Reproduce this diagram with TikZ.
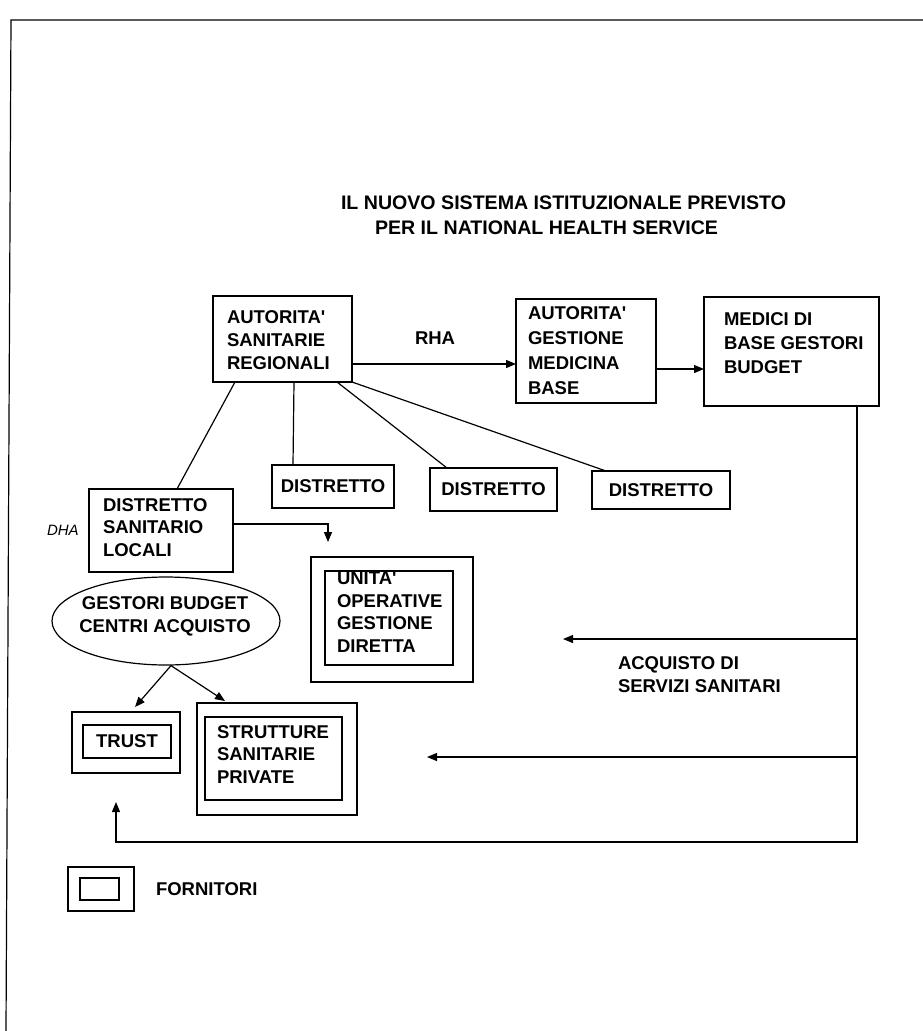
\documentclass[tikz,border=0pt]{standalone}
\usepackage{fontspec}
\newfontfamily\hv{Liberation Sans}
\usetikzlibrary{arrows.meta,shapes.geometric}
\begin{document}
\begin{tikzpicture}[x=1pt,y=-1pt,
  box/.style={draw,line width=1.2pt,inner sep=0pt,outer sep=0pt},
  bf/.style={font=\hv\bfseries\fontsize{18.5}{23}\selectfont},
  t/.style={font=\hv\bfseries\fontsize{18.5}{23}\selectfont,inner sep=0pt,outer sep=0pt,align=left,anchor=west},
  ln/.style={line width=1.2pt},
  arr/.style={ln,-{Triangle[length=10pt,width=8pt]}}]
\useasboundingbox (0,0) rectangle (923,1031);
% frame
\coordinate (ftl) at (11,20);
\coordinate (ftr) at (923,20);
\coordinate (fbl) at (6,1031);
\draw[ln] (ftr) -- (ftl) -- (fbl);
% title
\node[t,font=\hv\bfseries\fontsize{19.6}{25}\selectfont] (title1) at (341,203) {IL NUOVO SISTEMA ISTITUZIONALE PREVISTO};
\node[t,font=\hv\bfseries\fontsize{19.6}{25}\selectfont] (title2) at (375,228) {PER IL NATIONAL HEALTH SERVICE};
% top row
\node[box,minimum width=139,minimum height=86] (asr) at (282.5,339) {};
\node[t] (asrt) at (227,340) {AUTORITA'\\SANITARIE\\REGIONALI};
\node[t] (rha) at (415,338) {RHA};
\node[box,minimum width=140,minimum height=104] (agmb) at (586,351) {};
\node[t,font=\hv\bfseries\fontsize{18.5}{25}\selectfont] (agmbt) at (528,350.5) {AUTORITA'\\GESTIONE\\MEDICINA\\BASE};
\node[box,minimum width=175,minimum height=109] (med) at (791.5,351.5) {};
\node[t,font=\hv\bfseries\fontsize{18.5}{24}\selectfont] (medt) at (724,343) {MEDICI DI\\BASE GESTORI\\BUDGET};
% distretti
\node[box,bf,minimum width=122,minimum height=43] (d1) at (333,486.5) {DISTRETTO};
\node[box,bf,minimum width=127,minimum height=43] (d2) at (493.5,489.5) {DISTRETTO};
\node[box,bf,minimum width=138,minimum height=38] (d3) at (661,490) {DISTRETTO};
% distretto sanitario locali
\node[box,minimum width=144,minimum height=83] (dsl) at (161,530.5) {};
\node[t,font=\hv\bfseries\fontsize{18.5}{22.5}\selectfont] (dslt) at (103,527.5) {DISTRETTO\\SANITARIO\\LOCALI};
\node[t,font=\hv\itshape\fontsize{15}{18}\selectfont] (dha) at (47,530) {DHA};
% unita operative
\node[box,minimum width=162,minimum height=125] (uo) at (392,619.5) {};
\node[box,minimum width=128,minimum height=94] (ui) at (389,618) {};
\node[t,font=\hv\bfseries\fontsize{18.5}{22.7}\selectfont] (uot) at (337,612) {UNITA'\\OPERATIVE\\GESTIONE\\DIRETTA};
% ellipse
\node[draw,ellipse,ln,minimum width=228,minimum height=88,inner sep=0pt] (el) at (166,621) {};
\node[bf,align=center,inner sep=0pt] (elt) at (165,616.5) {GESTORI BUDGET\\CENTRI ACQUISTO};
% trust
\node[box,minimum width=108,minimum height=61] (tro) at (126,742.5) {};
\node[box,bf,minimum width=88,minimum height=33] (tri) at (127,741.5) {TRUST};
% strutture
\node[box,minimum width=160,minimum height=112] (sto) at (277,759) {};
\node[box,minimum width=137,minimum height=83] (sti) at (273.5,758.5) {};
\node[t,font=\hv\bfseries\fontsize{18.5}{22.5}\selectfont] (stt) at (217,754.5) {STRUTTURE\\SANITARIE\\PRIVATE};
% legend
\node[box,minimum width=66,minimum height=44] (lgo) at (101,889) {};
\node[box,minimum width=39,minimum height=22] (lgi) at (99.5,889) {};
\node[t] (lgt) at (156,889) {FORNITORI};
% acquisto
\node[t] (acq) at (618,674.5) {ACQUISTO DI\\SERVIZI SANITARI};
% connectors
\draw[arr] ([yshift=-25pt]asr.east) -- ([yshift=-25pt]asr.east -| agmb.west);
\draw[arr] ([yshift=-18pt]agmb.east) -- ([yshift=-18pt]agmb.east -| med.west);
\draw[ln] ([xshift=22pt]asr.south west) -- ([xshift=88pt]dsl.north west);
\draw[ln] ([xshift=11.5pt]asr.south) -- ([xshift=-40pt]d1.north);
\draw[ln] ([xshift=-15pt]asr.south east) -- ([xshift=17pt]d2.north west);
\draw[ln] (asr.south east) -- ([xshift=14pt]d3.north west);
\draw[arr] ([yshift=6.5pt]dsl.east) -| ([xshift=17pt,yshift=15pt]uo.north west);
\draw[arr] ([xshift=5pt]el.south) -- ([xshift=9pt,yshift=5pt]tro.north);
\draw[arr] ([xshift=5pt]el.south) -- ([xshift=28pt,yshift=2pt]sto.north west);
% purchase lines
\coordinate (m0) at ([xshift=-22pt]med.south east);
\coordinate (a1) at (563,639);
\coordinate (a2) at (427,757);
\coordinate (cb) at (116,842);
\coordinate (tr) at (116,802);
\draw[arr] (m0) |- (cb) -- (tr);
\draw[arr] (m0 |- a1) -- (a1);
\draw[arr] (m0 |- a2) -- (a2);
\end{tikzpicture}
\end{document}
